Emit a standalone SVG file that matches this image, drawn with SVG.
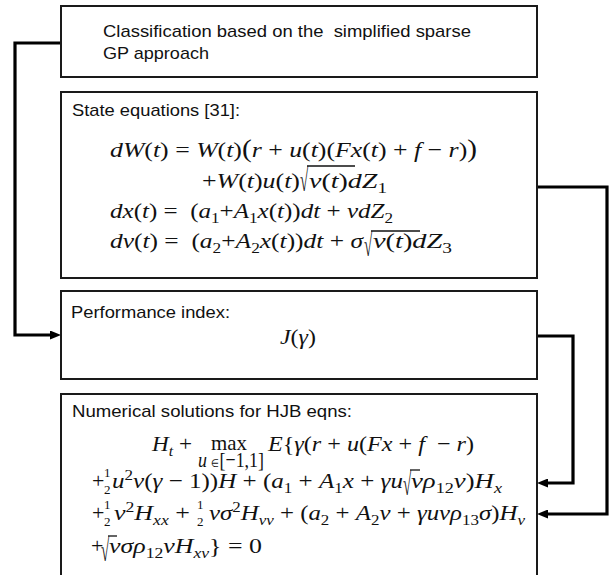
<svg xmlns="http://www.w3.org/2000/svg" width="610" height="575" viewBox="0 0 610 575">
<style>
.box{fill:#fff;stroke:#1a1a1a;stroke-width:2}
.hd{font-family:"Liberation Sans",Arial,sans-serif;font-size:17px;fill:#111}
.m{font-family:"Liberation Serif","Times New Roman",serif;font-size:22px;fill:#111}
.i{font-style:italic}
.s{font-size:15px}
.f{font-family:"Liberation Serif","Times New Roman",serif;font-size:13px;fill:#111}
.rad{font-family:"Liberation Serif","Times New Roman",serif;font-size:25px;fill:#111}
.bar{stroke:#111;stroke-width:1.3}
.conn{fill:none;stroke:#000;stroke-width:3.2;stroke-linejoin:miter}
</style>
<defs>
<marker id="arrow" markerUnits="userSpaceOnUse" markerWidth="11" markerHeight="9" refX="0" refY="4.5" orient="auto">
<path d="M0,0 L11,4.5 L0,9 z" fill="#000"/>
</marker>
</defs>
<rect width="610" height="575" fill="#fff"/>

<g id="connectors">
<path class="conn" d="M61,43 H15 V335 H50" marker-end="url(#arrow)"/>
<path class="conn" d="M537,187 H607 V514 H548" marker-end="url(#arrow)"/>
<path class="conn" d="M537,336 H573 V483 H548" marker-end="url(#arrow)"/>
</g>

<g id="node-classification">
<rect class="box" x="61" y="6" width="476" height="71"/>
<text class="hd" x="103" y="37" textLength="368" lengthAdjust="spacingAndGlyphs">Classification based on the&#160; simplified sparse</text>
<text class="hd" x="103" y="59" textLength="106" lengthAdjust="spacingAndGlyphs">GP approach</text>
</g>

<g id="node-state">
<rect class="box" x="61" y="92" width="476" height="186"/>
<text class="hd" x="72" y="116" textLength="168" lengthAdjust="spacingAndGlyphs">State equations [31]:</text>
<text class="m" x="110" y="157" textLength="367" lengthAdjust="spacingAndGlyphs"><tspan class="i">dW</tspan>(<tspan class="i">t</tspan>) = <tspan class="i">W</tspan>(<tspan class="i">t</tspan>)<tspan font-size="25">(</tspan><tspan class="i">r</tspan> + <tspan class="i">u</tspan>(<tspan class="i">t</tspan>)(<tspan class="i">Fx</tspan>(<tspan class="i">t</tspan>) + <tspan class="i">f</tspan> − <tspan class="i">r</tspan>)<tspan font-size="25">)</tspan></text>
<text class="m" x="202" y="188" textLength="98" lengthAdjust="spacingAndGlyphs">+<tspan class="i">W</tspan>(<tspan class="i">t</tspan>)<tspan class="i">u</tspan>(<tspan class="i">t</tspan>)</text>
<text class="rad" transform="translate(300,191) scale(0.6,1.25)">√</text>
<line class="bar" x1="307" y1="166" x2="355" y2="166"/>
<text class="m" x="309" y="188" textLength="78" lengthAdjust="spacingAndGlyphs"><tspan class="i">v</tspan>(<tspan class="i">t</tspan>)<tspan class="i">dZ</tspan><tspan class="s" dy="5">1</tspan></text>
<text class="m" x="110" y="218" textLength="283" lengthAdjust="spacingAndGlyphs"><tspan class="i">dx</tspan>(<tspan class="i">t</tspan>) =&#160; (<tspan class="i">a</tspan><tspan class="s" dy="5">1</tspan><tspan dy="-5">+</tspan><tspan class="i">A</tspan><tspan class="s" dy="5">1</tspan><tspan class="i" dy="-5">x</tspan>(<tspan class="i">t</tspan>))<tspan class="i">dt</tspan> + <tspan class="i">νdZ</tspan><tspan class="s" dy="5">2</tspan></text>
<text class="m" x="110" y="248" textLength="253" lengthAdjust="spacingAndGlyphs"><tspan class="i">dv</tspan>(<tspan class="i">t</tspan>) =&#160; (<tspan class="i">a</tspan><tspan class="s" dy="5">2</tspan><tspan dy="-5">+</tspan><tspan class="i">A</tspan><tspan class="s" dy="5">2</tspan><tspan class="i" dy="-5">x</tspan>(<tspan class="i">t</tspan>))<tspan class="i">dt</tspan> + <tspan class="i">σ</tspan></text>
<text class="rad" transform="translate(364,256) scale(0.6,1.25)">√</text>
<line class="bar" x1="371" y1="231" x2="420" y2="231"/>
<text class="m" x="373" y="248" textLength="79" lengthAdjust="spacingAndGlyphs"><tspan class="i">v</tspan>(<tspan class="i">t</tspan>)<tspan class="i">dZ</tspan><tspan class="s" dy="5">3</tspan></text>
</g>

<g id="node-performance">
<rect class="box" x="61" y="291" width="476" height="88"/>
<text class="hd" x="71" y="318" textLength="159" lengthAdjust="spacingAndGlyphs">Performance index:</text>
<text class="m" x="280" y="344" textLength="36" lengthAdjust="spacingAndGlyphs"><tspan class="i">J</tspan>(<tspan class="i">γ</tspan>)</text>
</g>

<g id="node-hjb">
<rect class="box" x="61" y="394" width="476" height="200"/>
<text class="hd" x="72" y="417" textLength="280" lengthAdjust="spacingAndGlyphs">Numerical solutions for HJB eqns:</text>
<text class="m" x="152" y="451" textLength="40" lengthAdjust="spacingAndGlyphs"><tspan class="i">H</tspan><tspan class="s i" dy="5">t</tspan><tspan dy="-5"> +</tspan></text>
<text class="m" x="211" y="450" textLength="36" lengthAdjust="spacingAndGlyphs">max</text>
<text class="m" x="198" y="467" font-size="13" textLength="66" lengthAdjust="spacingAndGlyphs"><tspan class="i">u</tspan> <tspan font-size="11">∈</tspan>[−1,1]</text>
<text class="m" x="268" y="451" textLength="206" lengthAdjust="spacingAndGlyphs"><tspan class="i">E</tspan>{<tspan class="i">γ</tspan>(<tspan class="i">r</tspan> + <tspan class="i">u</tspan>(<tspan class="i">Fx</tspan> + <tspan class="i">f</tspan>&#160; − <tspan class="i">r</tspan>)</text>

<text class="m" x="92" y="488">+</text>
<text class="f" x="104" y="477">1</text>
<text class="f" x="104" y="494">2</text>
<text class="m" x="112" y="488" textLength="291" lengthAdjust="spacingAndGlyphs"><tspan class="i">u</tspan><tspan class="s" dy="-8">2</tspan><tspan class="i" dy="8">v</tspan>(<tspan class="i">γ</tspan> − 1))<tspan class="i">H</tspan> + (<tspan class="i">a</tspan><tspan class="s" dy="5">1</tspan><tspan dy="-5"> + </tspan><tspan class="i">A</tspan><tspan class="s" dy="5">1</tspan><tspan class="i" dy="-5">x</tspan> + <tspan class="i">γu</tspan></text>
<text class="rad" transform="translate(403,495) scale(0.6,1.25)">√</text>
<line class="bar" x1="410" y1="470" x2="420" y2="470"/>
<text class="m" x="411" y="488" textLength="91" lengthAdjust="spacingAndGlyphs"><tspan class="i">vρ</tspan><tspan class="s" dy="5">12</tspan><tspan class="i" dy="-5">v</tspan>)<tspan class="i">H</tspan><tspan class="s i" dy="5">x</tspan></text>

<text class="m" x="92" y="520">+</text>
<text class="f" x="104" y="509">1</text>
<text class="f" x="104" y="526">2</text>
<text class="m" x="114" y="520" textLength="76" lengthAdjust="spacingAndGlyphs"><tspan class="i">v</tspan><tspan class="s" dy="-8">2</tspan><tspan class="i" dy="8">H</tspan><tspan class="s i" dy="5">xx</tspan><tspan dy="-5"> +</tspan></text>
<text class="f" x="197" y="509">1</text>
<text class="f" x="197" y="526">2</text>
<text class="m" x="209" y="520" textLength="316" lengthAdjust="spacingAndGlyphs"><tspan class="i">vσ</tspan><tspan class="s" dy="-8">2</tspan><tspan class="i" dy="8">H</tspan><tspan class="s i" dy="5">vv</tspan><tspan dy="-5"> + (</tspan><tspan class="i">a</tspan><tspan class="s" dy="5">2</tspan><tspan dy="-5"> + </tspan><tspan class="i">A</tspan><tspan class="s" dy="5">2</tspan><tspan class="i" dy="-5">v</tspan> + <tspan class="i">γuvρ</tspan><tspan class="s" dy="5">13</tspan><tspan class="i" dy="-5">σ</tspan>)<tspan class="i">H</tspan><tspan class="s i" dy="5">v</tspan></text>

<text class="m" x="91" y="553">+</text>
<text class="rad" transform="translate(101,561) scale(0.6,1.25)">√</text>
<line class="bar" x1="108" y1="536" x2="117" y2="536"/>
<text class="m" x="109" y="553" textLength="153" lengthAdjust="spacingAndGlyphs"><tspan class="i">vσρ</tspan><tspan class="s" dy="5">12</tspan><tspan class="i" dy="-5">vH</tspan><tspan class="s i" dy="5">xv</tspan><tspan dy="-5">} = 0</tspan></text>
</g>
</svg>
